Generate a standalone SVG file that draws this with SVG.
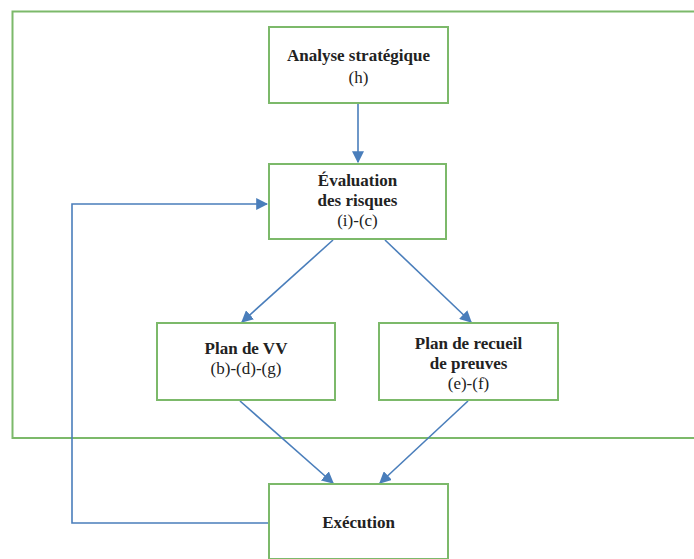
<svg xmlns="http://www.w3.org/2000/svg" width="694" height="559" viewBox="0 0 694 559">
<style>
.box{fill:#ffffff;stroke:#7cb96a;stroke-width:2}
.frame{fill:none;stroke:#7cb96a;stroke-width:2}
.c{fill:none;stroke:#4a7ebb;stroke-width:1.6}
.t{font-family:"Liberation Serif",serif;font-size:17px;font-weight:bold;fill:#222;text-anchor:middle}
.s{font-family:"Liberation Serif",serif;font-size:17px;fill:#222;text-anchor:middle}
</style>
<defs>
<marker id="ah2" viewBox="0 0 10 10" refX="9" refY="5" markerWidth="12" markerHeight="12" markerUnits="userSpaceOnUse" orient="auto">
<path d="M0,0 L10,5 L0,10 z" fill="#4a7ebb"/>
</marker>
</defs>
<rect width="694" height="559" fill="#ffffff"/>
<rect class="frame" x="12.5" y="11.5" width="700" height="426.5"/>
<g id="connectors">
<line class="c" x1="358" y1="103" x2="358" y2="162" marker-end="url(#ah2)"/>
<line class="c" x1="333" y1="240" x2="242" y2="322" marker-end="url(#ah2)"/>
<line class="c" x1="385" y1="240" x2="471" y2="322" marker-end="url(#ah2)"/>
<line class="c" x1="240" y1="401" x2="333" y2="483" marker-end="url(#ah2)"/>
<line class="c" x1="468" y1="401" x2="380" y2="483" marker-end="url(#ah2)"/>
<polyline class="c" points="269,523 72,523 72,204 267,204" marker-end="url(#ah2)"/>
</g>
<g id="analyse">
<rect class="box" x="269" y="27" width="179" height="76"/>
<text class="t" x="358.5" y="61">Analyse stratégique</text>
<text class="s" x="358.5" y="83">(h)</text>
</g>
<g id="evaluation">
<rect class="box" x="269" y="164" width="177" height="75"/>
<text class="t" x="357.5" y="186">Évaluation</text>
<text class="t" x="357.5" y="206">des risques</text>
<text class="s" x="357.5" y="226">(i)-(c)</text>
</g>
<g id="planvv">
<rect class="box" x="157" y="323" width="178" height="77"/>
<text class="t" x="246" y="354">Plan de VV</text>
<text class="s" x="246" y="374">(b)-(d)-(g)</text>
</g>
<g id="recueil">
<rect class="box" x="379" y="323" width="179" height="77"/>
<text class="t" x="468.5" y="349">Plan de recueil</text>
<text class="t" x="468.5" y="369">de preuves</text>
<text class="s" x="468.5" y="389">(e)-(f)</text>
</g>
<g id="execution">
<rect class="box" x="269" y="484" width="179" height="75"/>
<text class="t" x="358.5" y="528">Exécution</text>
</g>
</svg>
